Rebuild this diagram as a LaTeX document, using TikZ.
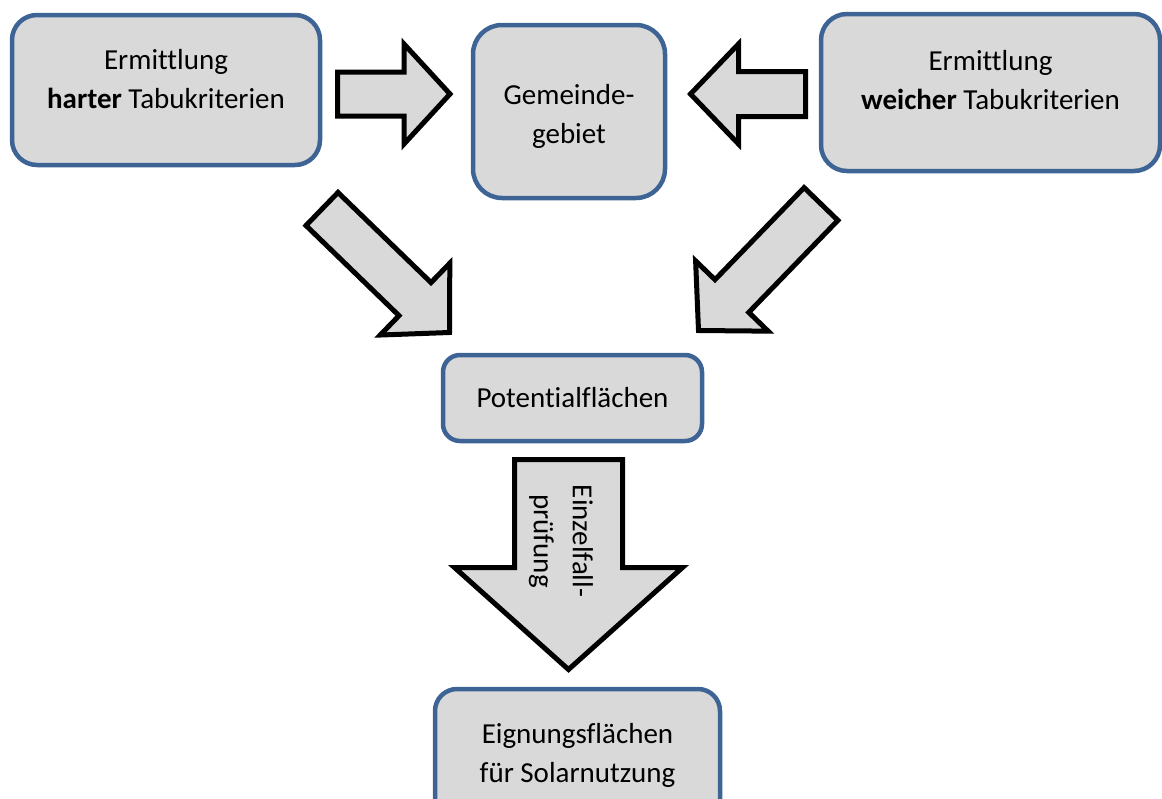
\documentclass[tikz,border=0pt]{standalone}
\usepackage{fontspec}
\setmainfont[Ligatures={NoCommon,NoRare,NoContextual}]{Carlito}
\usetikzlibrary{calc}
\definecolor{boxfill}{HTML}{D9D9D9}
\definecolor{boxline}{HTML}{3D6494}
\tikzset{
  box/.style={draw=boxline, fill=boxfill, line width=4.5pt, rounded corners=#1, align=center, inner sep=0pt},
  box/.default=25pt,
  blockarrow/.style={draw=black, fill=boxfill, line width=5pt, line join=miter},
  lbl/.style={align=center, inner sep=0pt}
}
% tail, tip, shaft half width, head half width, head length
\newcommand\blkarrow[5]{%
  \coordinate (bh) at ($(#2)!#5!(#1)$);
  \draw[blockarrow] ($(#1)!#3!90:(#2)$) -- ($(bh)!#3!90:(#2)$) -- ($(bh)!#4!90:(#2)$) -- (#2)
    -- ($(bh)!#4!-90:(#2)$) -- ($(bh)!#3!-90:(#2)$) -- ($(#1)!#3!-90:(#2)$) -- cycle;
}
\begin{document}
\begin{tikzpicture}[x=1pt, y=-1pt, every node/.style={font=\fontsize{29pt}{39pt}\selectfont}]
\useasboundingbox (0,0) rectangle (1162,798);
\clip (0,0) rectangle (1162,798);

% boxes
\node[box=25pt, minimum width=308pt, minimum height=150pt] (hart) at (166,90)
  {Ermittlung\\\textbf{harter} Tabukriterien\vrule width 0pt height 0pt depth 23pt};
\node[box=29pt, minimum width=192pt, minimum height=173pt] (gem) at (569,111.5)
  {\vrule width 0pt height 30pt depth 0pt Gemeinde-\\gebiet};
\node[box=26pt, minimum width=339pt, minimum height=157pt] (weich) at (990.5,92.5)
  {Ermittlung\\\textbf{weicher} Tabukriterien\vrule width 0pt height 0pt depth 26pt};
\node[box=17pt, minimum width=259pt, minimum height=86pt] (pot) at (572.5,398)
  {Potentialflächen};
\node[box=22pt, minimum width=285pt, minimum height=132pt] (eig) at (577.5,755)
  {Eignungsflächen\\für Solarnutzung};

% block arrows
\coordinate (a1t) at (337.5,94);  \coordinate (a1p) at (450,94);
\coordinate (a2t) at (805.5,94);  \coordinate (a2p) at (690.5,94);
\coordinate (a3t) at (322,209);   \coordinate (a3p) at (449.5,332.5);
\coordinate (a4t) at (821,204);   \coordinate (a4p) at (698.5,330.5);
\coordinate (a5t) at (568.5,459.5); \coordinate (a5p) at (568.5,669.5);

\blkarrow{a1t}{a1p}{22pt}{50pt}{46pt}
\blkarrow{a2t}{a2p}{22.5pt}{50pt}{48pt}
\blkarrow{a3t}{a3p}{23pt}{50pt}{48pt}
\blkarrow{a4t}{a4p}{23.5pt}{50.5pt}{48pt}
\blkarrow{a5t}{a5p}{54pt}{114pt}{102pt}

\node[lbl, rotate=-90] (einz) at (561,541) {Einzelfall-\\prüfung};
\end{tikzpicture}
\end{document}
